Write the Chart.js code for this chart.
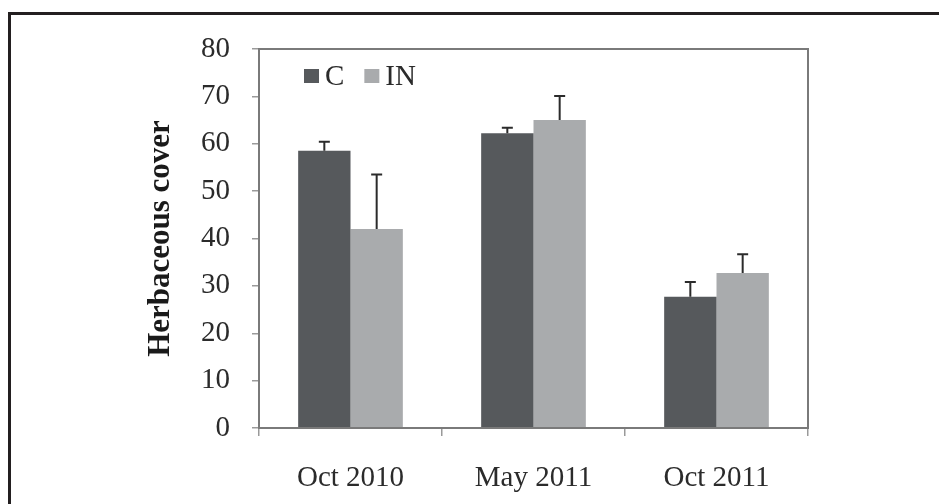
<!DOCTYPE html>
<html>
<head>
<meta charset="utf-8">
<script src="https://cdn.jsdelivr.net/npm/chart.js@4.4.1/dist/chart.umd.min.js"></script>
<style>
    html, body { margin: 0; padding: 0; background: #fff; }
    #wrap { position: relative; width: 939px; height: 504px; overflow: hidden; }
    #frame { position: absolute; left: 8px; top: 12px; width: 1000px; height: 600px;
             border-left: 3px solid #231f20; border-top: 3px solid #231f20; }
    #myChart { position: absolute; left: 0; top: 0; }
</style>
</head>
<body>
<div id="wrap">
    <div id="frame"></div>
    <canvas id="myChart" width="939" height="504"></canvas>
</div>
<script>
var labels = ['Oct 2010', 'May 2011', 'Oct 2011'];
var seriesNames = ['C', 'IN'];
var cValues = [58.5, 62.2, 27.7];
var inValues = [42.0, 65.0, 32.7];
var cErrors = [1.9, 1.2, 3.1];
var inErrors = [11.5, 5.1, 4.0];
var yTicks = [0, 10, 20, 30, 40, 50, 60, 70, 80];

var darkGrey = '#56595c';
var lightGrey = '#a9abad';
var serif = "'Liberation Serif', 'Times New Roman', serif";

// box around the plot area
var plotBox = {
    id: 'plotBox',
    afterDraw: function(chart) {
        var a = chart.chartArea;
        var ctx = chart.ctx;
        ctx.save();
        ctx.strokeStyle = '#7a7a7a';
        ctx.lineWidth = 2;
        ctx.strokeRect(a.left, a.top, a.right - a.left, a.bottom - a.top);
        ctx.restore();
    }
};

// error bars, upper side only
var errorBars = {
    id: 'errorBars',
    afterDatasetsDraw: function(chart) {
        var ctx = chart.ctx;
        var y = chart.scales.y;
        ctx.save();
        ctx.strokeStyle = '#2b2b2b';
        ctx.lineWidth = 2;
        chart.data.datasets.forEach(function(ds, i) {
            var meta = chart.getDatasetMeta(i);
            meta.data.forEach(function(bar, j) {
                var top = y.getPixelForValue(ds.data[j] + ds.errors[j]);
                ctx.beginPath();
                ctx.moveTo(bar.x, bar.y);
                ctx.lineTo(bar.x, top);
                ctx.moveTo(bar.x - 5.5, top);
                ctx.lineTo(bar.x + 5.5, top);
                ctx.stroke();
            });
        });
        ctx.restore();
    }
};

// legend inside the plot, top left
var innerLegend = {
    id: 'innerLegend',
    afterDraw: function(chart) {
        var a = chart.chartArea;
        var ctx = chart.ctx;
        var x = a.left + 45;
        var cy = a.top + 27;
        ctx.save();
        ctx.font = '29px ' + serif;
        ctx.textBaseline = 'middle';
        chart.data.datasets.forEach(function(ds) {
            ctx.fillStyle = ds.backgroundColor;
            ctx.fillRect(x, cy - 7, 15, 14);
            ctx.fillStyle = '#2b2b2b';
            ctx.fillText(ds.label, x + 21, cy + 1);
            x += 21 + ctx.measureText(ds.label).width + 20;
        });
        ctx.restore();
    }
};

var ctx = document.getElementById('myChart').getContext('2d');
var myChart = new Chart(ctx, {
    type: 'bar',
    data: {
        labels: labels,
        datasets: [{
            label: seriesNames[0],
            data: cValues,
            errors: cErrors,
            backgroundColor: darkGrey
        }, {
            label: seriesNames[1],
            data: inValues,
            errors: inErrors,
            backgroundColor: lightGrey
        }]
    },
    options: {
        responsive: false,
        animation: false,
        devicePixelRatio: 1,
        categoryPercentage: 0.572,
        barPercentage: 1,
        layout: { padding: { left: 0, top: 49, right: 131, bottom: 0 } },
        plugins: {
            legend: { display: false },
            tooltip: { enabled: false }
        },
        scales: {
            x: {
                border: { display: false },
                grid: { drawOnChartArea: false, drawTicks: true, tickLength: 8, color: '#9a9a9a', lineWidth: 1.5 },
                ticks: { color: '#2b2b2b', padding: 25, font: { family: serif, size: 29 } },
                afterFit: function(scale) { scale.height = 76; }
            },
            y: {
                min: 0,
                max: 80,
                afterBuildTicks: function(scale) {
                    scale.ticks = yTicks.map(function(v) { return { value: v }; });
                },
                border: { display: false },
                grid: { drawOnChartArea: false, drawTicks: true, tickLength: 7, color: '#9a9a9a', lineWidth: 1.5 },
                ticks: { color: '#2b2b2b', padding: 22, font: { family: serif, size: 29 } },
                title: {
                    display: true,
                    text: 'Herbaceous cover',
                    color: '#1a1a1a',
                    padding: { top: 142, bottom: 0 },
                    font: { family: serif, size: 31, weight: 'bold' }
                },
                afterFit: function(scale) { scale.width = 259; }
            }
        }
    },
    plugins: [plotBox, errorBars, innerLegend]
});
</script>
</body>
</html>
